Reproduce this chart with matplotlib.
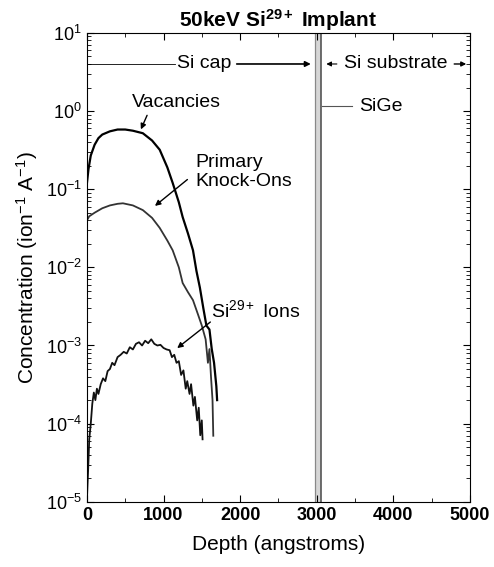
import numpy as np
import matplotlib
matplotlib.use('Agg')
import matplotlib.pyplot as plt
from matplotlib.ticker import FixedLocator, FuncFormatter, NullFormatter

plt.rcParams['font.family'] = ['Liberation Sans', 'DejaVu Sans']
plt.rcParams['mathtext.fontset'] = 'custom'
plt.rcParams['mathtext.rm'] = 'Liberation Sans'
plt.rcParams['mathtext.it'] = 'Liberation Sans:italic'
plt.rcParams['mathtext.bf'] = 'Liberation Sans:bold'

# vacancies
vac_x = [0, 20, 50, 100, 150, 200, 300, 400, 500, 600, 730, 850, 950, 1050, 1120, 1200,
         1250, 1320, 1385, 1430, 1475, 1520, 1560, 1600, 1630, 1660, 1690, 1700]
vac_y = [0.12, 0.18, 0.27, 0.37, 0.45, 0.5, 0.55, 0.58, 0.58, 0.56, 0.52, 0.42, 0.32, 0.19, 0.12, 0.068,
         0.044, 0.027, 0.0165, 0.009, 0.0055, 0.003, 0.0018, 0.0016, 0.0009, 0.0006, 0.0003, 0.0002]

# primary knock-ons
pko_x = [0, 30, 100, 200, 300, 400, 470, 600, 730, 850, 950, 1050, 1120, 1200, 1250, 1320,
         1385, 1450, 1500, 1550, 1580, 1600, 1620, 1640, 1650]
pko_y = [0.04, 0.045, 0.05, 0.057, 0.062, 0.065, 0.066, 0.062, 0.054, 0.043, 0.032, 0.022, 0.0165, 0.01,
         0.0063, 0.0048, 0.0038, 0.0025, 0.0018, 0.0012, 0.0006, 0.0009, 0.0004, 0.0002, 0.00007]

# Si29+ ions
ion_x = [0, 15, 30, 50, 70, 90, 110, 130, 150, 180, 210, 240, 270, 300, 330, 360, 400, 440, 480,
         520, 560, 600, 640, 680, 720, 760, 800, 840, 880, 920, 960, 1000, 1040, 1080, 1110, 1140,
         1170, 1200, 1230, 1260, 1290, 1310, 1340, 1360, 1390, 1410, 1440, 1460, 1480, 1500, 1510]
ion_y = [1.1e-5, 2.5e-5, 6.3e-5, 1.0e-4, 1.8e-4, 2.5e-4, 2.0e-4, 2.8e-4, 2.4e-4, 3.2e-4, 3.8e-4,
         3.5e-4, 4.7e-4, 5.0e-4, 6.0e-4, 5.6e-4, 7.1e-4, 7.6e-4, 8.3e-4, 7.9e-4, 9.5e-4, 8.9e-4,
         1.05e-3, 1.1e-3, 1.0e-3, 1.15e-3, 1.07e-3, 1.2e-3, 1.05e-3, 1.0e-3, 1.02e-3, 9.3e-4, 8.9e-4,
         8.7e-4, 7.1e-4, 7.6e-4, 6.0e-4, 6.3e-4, 4.2e-4, 4.8e-4, 2.8e-4, 3.5e-4, 2.4e-4, 3.2e-4,
         1.7e-4, 2.2e-4, 1.1e-4, 1.6e-4, 7.1e-5, 1.1e-4, 6.3e-5]

x_ticks = [0, 1000, 2000, 3000, 4000, 5000]
y_decades = [-5, -4, -3, -2, -1, 0, 1]

sige_left = 2980
sige_right = 3060

fig = plt.figure(figsize=(4.94, 5.67), dpi=100)
ax = fig.add_axes([0.176, 0.115, 0.775, 0.827])

ax.axvspan(sige_left, sige_right, color='#d6d6d6', lw=0)
ax.axvline(sige_left, color='#888888', lw=0.9)
ax.axvline(sige_right, color='#555555', lw=1.2)

ax.plot(vac_x, vac_y, color='black', lw=1.6)
ax.plot(pko_x, pko_y, color='#333333', lw=1.3)
ax.plot(ion_x, ion_y, color='#111111', lw=1.3)

ax.set_yscale('log')
ax.set_xlim(0, 5000)
ax.set_ylim(1e-5, 1e1)

ax.xaxis.set_major_locator(FixedLocator(x_ticks))
ax.xaxis.set_minor_locator(FixedLocator(np.arange(500, 5000, 1000)))
ax.xaxis.set_minor_formatter(NullFormatter())
major_y = [10.0 ** d for d in y_decades]
minor_y = [m * 10.0 ** d for d in y_decades[:-1] for m in range(2, 10)]
ax.yaxis.set_major_locator(FixedLocator(major_y))
ax.yaxis.set_minor_locator(FixedLocator(minor_y))
ax.yaxis.set_minor_formatter(NullFormatter())
ax.yaxis.set_major_formatter(FuncFormatter(lambda v, p: r'$10^{%d}$' % round(np.log10(v))))
ax.tick_params(which='both', direction='in', top=True, right=True)
ax.tick_params(which='major', length=5, labelsize=13)
ax.tick_params(which='minor', length=3)
for lab in ax.get_xticklabels():
    lab.set_fontweight('bold')

ax.set_xlabel('Depth (angstroms)', fontsize=15, labelpad=8)
ax.set_ylabel(r'Concentration (ion$^{-1}$ A$^{-1}$)', fontsize=15)
ax.set_title(r'50keV Si$^{\mathbf{29+}}$ Implant', fontsize=15, fontweight='bold', pad=3)

# layer annotations
ax.plot([0, 1150], [4.0, 4.0], color='black', lw=0.6)
ax.text(1530, 4.0, 'Si cap', fontsize=14, ha='center', va='center')
ax.annotate('', xy=(2960, 4.0), xytext=(1920, 4.0),
            arrowprops=dict(arrowstyle='-|>', color='black', lw=1.2, mutation_scale=8))
ax.annotate('', xy=(3090, 4.0), xytext=(3300, 4.0),
            arrowprops=dict(arrowstyle='-|>', color='black', lw=0.8, mutation_scale=7))
ax.text(3360, 4.0, 'Si substrate', fontsize=14, ha='left', va='center')
ax.annotate('', xy=(4990, 4.0), xytext=(4760, 4.0),
            arrowprops=dict(arrowstyle='-|>', color='black', lw=1.0, mutation_scale=7))
ax.plot([3070, 3460], [1.16, 1.16], color='#555555', lw=0.8)
ax.text(3560, 1.16, 'SiGe', fontsize=14, ha='left', va='center')

# curve labels
ax.text(1170, 1.3, 'Vacancies', fontsize=14, ha='center', va='center')
ax.annotate('', xy=(690, 0.54), xytext=(800, 0.95),
            arrowprops=dict(arrowstyle='-|>', color='black', lw=1.0, mutation_scale=8))
ax.text(1410, 0.165, 'Primary\nKnock-Ons', fontsize=14, ha='left', va='center', linespacing=1.15)
ax.annotate('', xy=(860, 0.058), xytext=(1340, 0.14),
            arrowprops=dict(arrowstyle='-|>', color='black', lw=1.0, mutation_scale=8))
ax.text(1620, 0.0028, r'Si$^{29+}$ Ions', fontsize=14, ha='left', va='center')
ax.annotate('', xy=(1150, 0.00088), xytext=(1640, 0.0021),
            arrowprops=dict(arrowstyle='-|>', color='black', lw=1.0, mutation_scale=8))

fig.savefig('out.png', dpi=100)
